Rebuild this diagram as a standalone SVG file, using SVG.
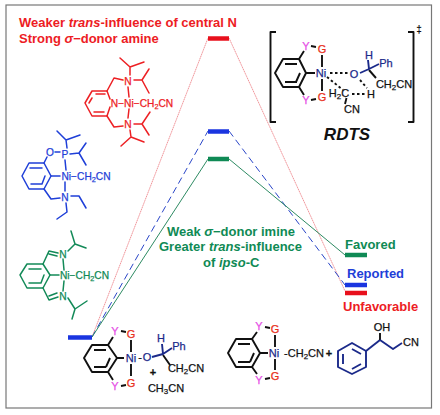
<svg xmlns="http://www.w3.org/2000/svg" width="440" height="415" viewBox="0 0 440 415">
<style>
text{font-family:"Liberation Sans",Arial,sans-serif;text-anchor:middle}
.b{font-weight:bold}
.s{font-size:10.200px;stroke-width:.25}
#reactant .s,#rdts .s,#product-complex .s,#product-alcohol .s{font-size:11px}
.u{font-size:.72em}
.l{font-size:13px;font-weight:bold;text-anchor:start}
.m{fill:none;stroke-width:1.5;stroke-linejoin:round;stroke-linecap:round}
.t{fill:none;stroke-width:1.9;stroke-linejoin:round}
.red{fill:#ed1c24}.blu{fill:#1f3fd8}.grn{fill:#0f8a55}.blk{fill:#111}.nav{fill:#1b2a8a}.pnk{fill:#e64fe6}.org{fill:#e8301c}
.s.red{stroke:#ed1c24}.s.blu{stroke:#1f3fd8}.s.grn{stroke:#0f8a55}.s.blk{stroke:#111}.s.nav{stroke:#1b2a8a}.s.org{stroke:#e8301c}.s.pnk{stroke:#e64fe6}
.sr{stroke:#ed2024}.sb{stroke:#1f3fd8}.sg{stroke:#138a58}.sk{stroke:#111}.sn{stroke:#1b2a8a}
.h{stroke-width:4.500;fill:none}
</style>
<rect x="6" y="5" width="425.500" height="403" fill="#fff" stroke="#777" stroke-width="1.200"/>
<g id="connectors" fill="none">
<path d="M92 337L208 38M229 38L345 291" stroke="#ee8a90" stroke-width=".9" stroke-dasharray="1.500 .5"/>
<path d="M92 337L208 131M229 131L345 285" stroke="#2a46c8" stroke-width="1" stroke-dasharray="7 4"/>
<path d="M92 337L208 159M229 159L345 255" stroke="#2e8b63" stroke-width="1"/>
</g>
<g id="levels">
<path class="h" stroke="#e8101c" d="M208 38.500H229"/>
<path class="h" stroke="#1a35e0" d="M208 131.500H229"/>
<path class="h" stroke="#0f8a55" d="M208 159H229"/>
<path class="h" stroke="#1a35e0" d="M68 337.500H92"/>
<path class="h" stroke="#0f8a55" d="M345 255H367"/>
<path class="h" stroke="#1a35e0" d="M345 285H367"/>
<path class="h" stroke="#e8101c" d="M345 293H367"/>
</g>
<g id="labels">
<text class="l red" x="19" y="27">Weaker <tspan font-style="italic">trans</tspan>-influence of central N</text>
<text class="l red" x="19" y="43">Strong <tspan font-style="italic">σ</tspan>−donor amine</text>
<text class="l grn" x="167" y="236">Weak <tspan font-style="italic">σ</tspan>−donor imine</text>
<text class="l grn" x="159" y="251">Greater <tspan font-style="italic">trans</tspan>-influence</text>
<text class="l grn" x="203" y="267">of <tspan font-style="italic">ipso</tspan>-C</text>
<text class="l grn" x="345" y="249">Favored</text>
<text class="l blu" x="347" y="278">Reported</text>
<text class="l red" x="343" y="311">Unfavorable</text>
</g>
<g id="red-complex">
<path class="m sr" d="M110 99L107 91H92L85 103L92 116H107L110 107M92 98L89 103M96 94H105M94 112H104"/>
<path class="m sr" d="M107 91L114 78L123 80M130 75L130 67L120 58M130 67L144 62M134 80L142 80L149 69M142 80L149 93M128 87L129 97M129 109L128 118M107 116L114 127L123 126M134 124L142 124L150 112M142 124L149 135M130 130L131 137L121 146M131 137L144 142"/>
<text class="s red" x="128" y="85">N</text><text class="s red" x="128" y="128">N</text>
<text class="s red" x="142" y="107">N−Ni−CH<tspan class="u" dy="2">2</tspan><tspan dy="-2">CN</tspan></text>
</g>
<g id="blue-complex">
<path class="m sb" d="M22 176L29 163H44L51 176L44 189H29ZM30 168H42M45 176L42 184M31 184H42"/>
<path class="m sb" d="M44 163L47 157M55 152H60M67 148L66 140L57 131M66 140L80 135M70 154L79 153L86 143M79 153L86 165M65 160L66 170M65 182L65 191M51 176L60 176M44 189L51 199L60 198M71 196L79 196L86 208M66 203L67 212L57 219"/>
<text class="s blu" x="50" y="156">O</text><text class="s blu" x="65" y="158">P</text><text class="s blu" x="65" y="201">N</text>
<text class="s blu" x="86" y="180">Ni−CH<tspan class="u" dy="2">2</tspan><tspan dy="-2">CN</tspan></text>
</g>
<g id="green-complex">
<path class="m sg" d="M20 275L27 264H43L50 275L43 288H27ZM29 269H41M44 275L41 283M29 283H41"/>
<path class="m sg" d="M43 264L49 251L58 253M49 254L57 256M43 288L49 300L58 297M49 296L57 293M68 251L75 244L71 231M75 244L86 248M68 298L75 309L72 319M75 309L87 301M63 259L64 270M64 281L63 291M50 275L59 275"/>
<text class="s grn" x="63" y="258">N</text><text class="s grn" x="63" y="300">N</text>
<text class="s grn" x="84.500" y="279">Ni−CH<tspan class="u" dy="2">2</tspan><tspan dy="-2">CN</tspan></text>
</g>
<g id="reactant">
<path class="t sk" d="M84 358L92 345H108L117 358L108 372H92ZM94 350H106M110 358L106 367M94 367H106"/>
<path class="t sk" d="M108 345L113 337M108 372L113 380M117 358L124 358M121 331L126 332M121 386L126 385M131 340L131 352M131 364L131 376M163 355L170 365"/>
<path class="t sn" d="M152 357L163 354L172 348M162 344L163 354"/>
<text class="s pnk" x="115" y="335">Y</text><text class="s pnk" x="115" y="390">Y</text>
<text class="s org" x="131" y="338">G</text><text class="s org" x="131" y="387">G</text>
<text class="s nav" x="131" y="362">Ni</text><text class="s blk" x="140" y="361">-</text><text class="s nav" x="147" y="361">O</text>
<text class="s nav" x="161" y="342">H</text><text class="s nav" x="179" y="350">Ph</text>
<text class="s blk" x="186" y="372">CH<tspan class="u" dy="2">2</tspan><tspan dy="-2">CN</tspan></text>
<text class="s blk b" x="153" y="376">+</text>
<text class="s blk" x="166" y="392">CH<tspan class="u" dy="2">3</tspan><tspan dy="-2">CN</tspan></text>
</g>
<g id="rdts">
<path class="t sk" d="M276 32H270.500V122H276M408 32H413.500V122H408"/>
<path class="t sk" d="M275 73L283 59H299L306 73L299 87H283ZM285 64H297M300 73L296 82M285 82H297"/>
<path class="t sk" d="M299 59L304 51M299 87L304 95M306 73L315 73M311 46L316 47M311 100L316 99M322 55L322 67M322 79L322 91M369 70L376 78M346.500 98L345 104"/>
<path class="t sk" d="M330 73L348 73M327 77L343 90M352 94L365 94M360 80L367 88" stroke-dasharray="2.500 2.500"/>
<path class="t sn" d="M360 73L369 69L379 64M368 60L369 69"/>
<text class="s pnk" x="306" y="50">Y</text><text class="s pnk" x="306" y="104">Y</text>
<text class="s org" x="322" y="53">G</text><text class="s org" x="322" y="101">G</text>
<text class="s nav" x="321" y="77">Ni</text><text class="s nav" x="354" y="78">O</text>
<text class="s nav" x="369" y="59">H</text><text class="s nav" x="386" y="67">Ph</text>
<text class="s blk" x="394" y="87.500">CH<tspan class="u" dy="2">2</tspan><tspan dy="-2">CN</tspan></text>
<text class="s blk" x="339" y="97">H<tspan class="u" dy="2">2</tspan><tspan dy="-2">C</tspan></text>
<text class="s blk" x="352" y="113">CN</text><text class="s blk" x="371" y="98">H</text>
<text class="blk b" x="419" y="33" font-size="10">‡</text>
<text class="blk b" x="347" y="140" font-size="17" font-style="italic">RDTS</text>
</g>
<g id="product-complex">
<path class="t sk" d="M228 353L236 339H252L260 353L252 367H236ZM238 344H250M254 353L250 362M238 362H250"/>
<path class="t sk" d="M252 339L257 332M252 367L257 374M260 353L268 353M265 327L270 328M265 379L270 378M275 335L275 347M275 359L275 370"/>
<text class="s pnk" x="259" y="330">Y</text><text class="s pnk" x="259" y="384">Y</text>
<text class="s org" x="275" y="333">G</text><text class="s org" x="275" y="380">G</text>
<text class="s nav" x="274" y="357">Ni</text>
<text class="s blk" x="304" y="357">-CH<tspan class="u" dy="2">2</tspan><tspan dy="-2">CN</tspan></text>
<text class="s blk b" x="329" y="357">+</text>
</g>
<g id="product-alcohol">
<path class="t sn" d="M352 343L366 351V367L352 374L338 367V351ZM352 349L361 354M343 354V364M352 369L361 364"/>
<path class="t sn" d="M366 351L380 340"/>
<path class="t sk" d="M380 340L380 333"/>
<path class="t sn" d="M380 340L393 349L402 343"/>
<text class="s blk" x="382" y="331">OH</text><text class="s blk" x="411" y="346">CN</text>
</g>
</svg>
